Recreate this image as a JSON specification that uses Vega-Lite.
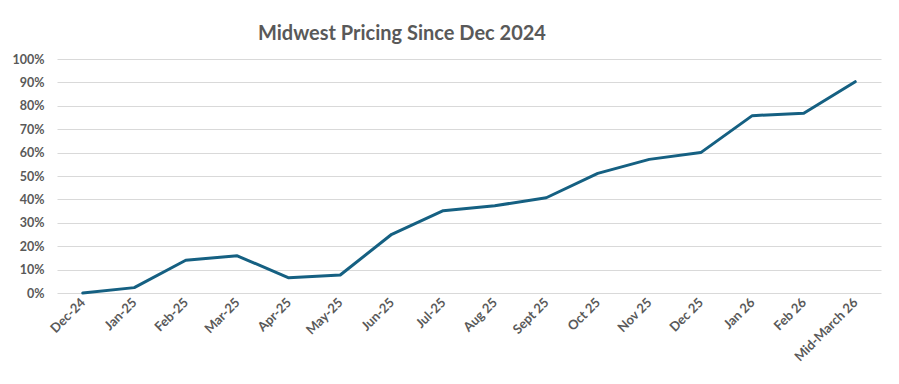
{
  "$schema": "https://vega.github.io/schema/vega-lite/v6.json",
  "width": 824,
  "height": 234,
  "autosize": {"type": "none"},
  "padding": {"left": 57, "top": 59, "right": 18, "bottom": 91},
  "background": "white",
  "title": {
    "text": "Midwest Pricing Since Dec 2024",
    "anchor": "start",
    "frame": "group",
    "dx": 201,
    "offset": 9,
    "font": "Lato",
    "fontSize": 20,
    "fontWeight": "bold",
    "color": "#595959"
  },
  "data": {
    "values": [
      {"month": "Dec-24", "pct": 0.0},
      {"month": "Jan-25", "pct": 0.023},
      {"month": "Feb-25", "pct": 0.14},
      {"month": "Mar-25", "pct": 0.159},
      {"month": "Apr-25", "pct": 0.065},
      {"month": "May-25", "pct": 0.077},
      {"month": "Jun-25", "pct": 0.251},
      {"month": "Jul-25", "pct": 0.352},
      {"month": "Aug 25", "pct": 0.373},
      {"month": "Sept 25", "pct": 0.407},
      {"month": "Oct 25", "pct": 0.511},
      {"month": "Nov 25", "pct": 0.571},
      {"month": "Dec 25", "pct": 0.6},
      {"month": "Jan 26", "pct": 0.758},
      {"month": "Feb 26", "pct": 0.768},
      {"month": "Mid-March 26", "pct": 0.903}
    ]
  },
  "mark": {"type": "line", "color": "#156082", "strokeWidth": 3, "strokeJoin": "round", "strokeCap": "round"},
  "encoding": {
    "x": {
      "field": "month",
      "type": "ordinal",
      "sort": null,
      "scale": {"type": "point", "padding": 0.5},
      "axis": {
        "title": null,
        "labelAngle": -45,
        "labelAlign": "right",
        "labelBaseline": "middle",
        "labelPadding": 7,
        "labelFont": "Lato",
        "labelFontSize": 13,
        "labelFontWeight": "bold",
        "labelColor": "#595959",
        "ticks": false,
        "domain": false,
        "grid": false
      }
    },
    "y": {
      "field": "pct",
      "type": "quantitative",
      "scale": {"domain": [0, 1], "nice": false},
      "axis": {
        "title": null,
        "values": [0, 0.1, 0.2, 0.3, 0.4, 0.5, 0.6, 0.7, 0.8, 0.9, 1.0],
        "format": ".0%",
        "labelFont": "Lato",
        "labelFontSize": 12.5,
        "labelFontWeight": "bold",
        "labelColor": "#595959",
        "labelPadding": 13,
        "ticks": false,
        "domain": false,
        "grid": true,
        "gridColor": "#d9d9d9",
        "gridWidth": 1
      }
    }
  },
  "config": {"view": {"stroke": null}}
}
